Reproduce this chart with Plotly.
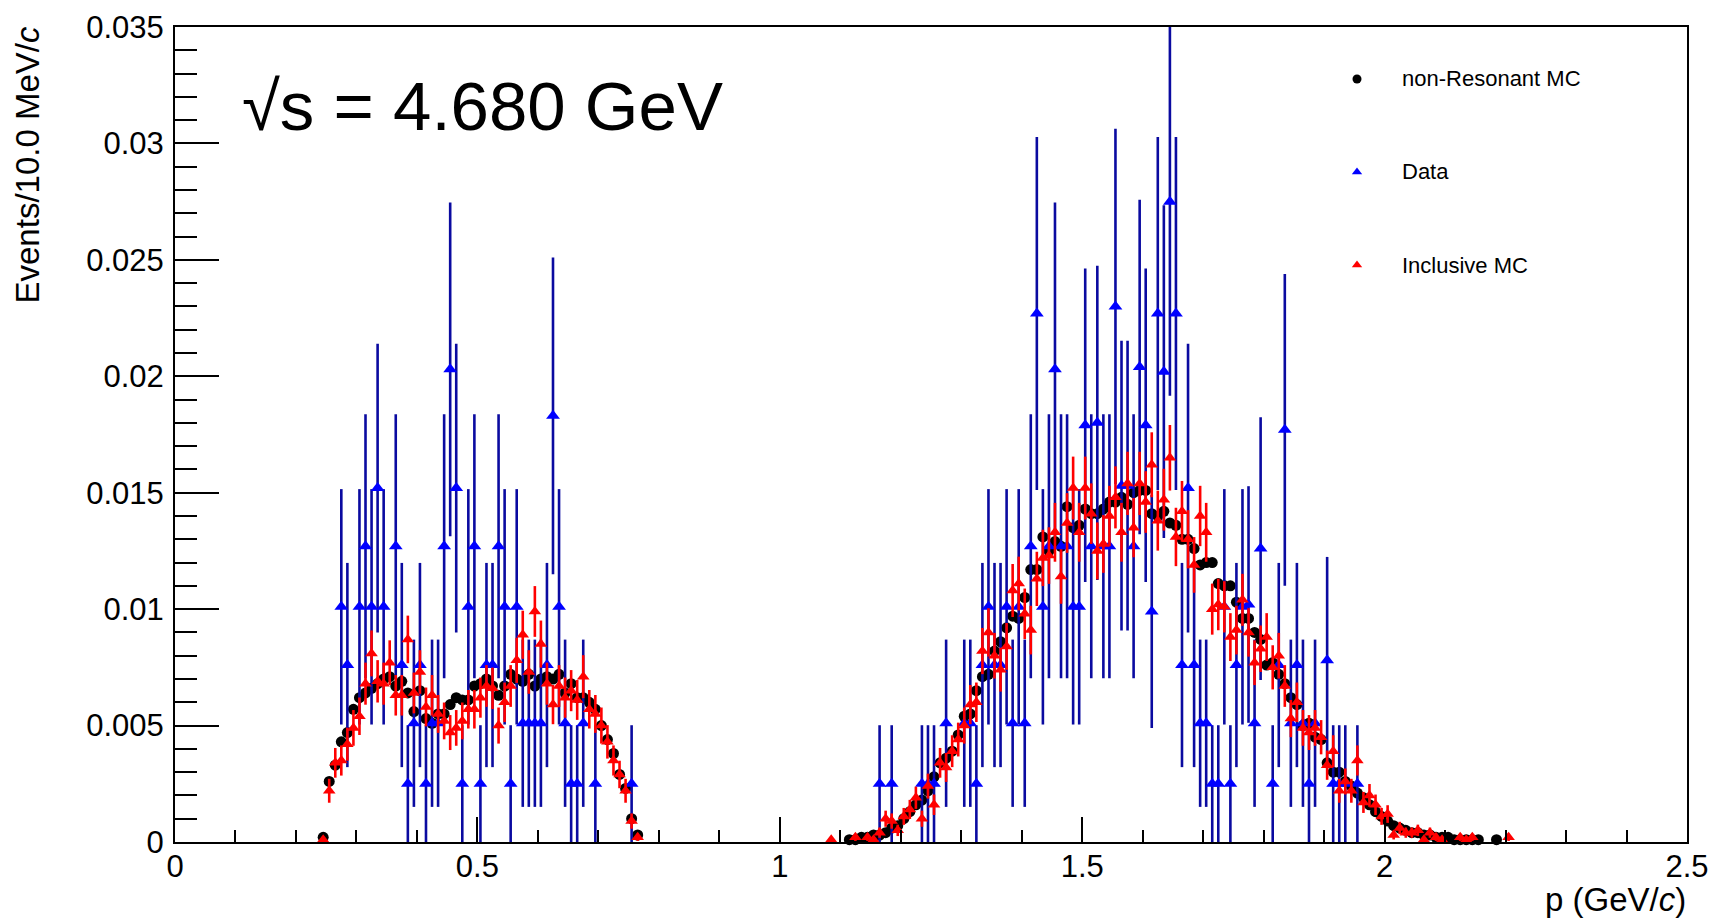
import math
import plotly.graph_objects as go

# ---------------- data (bin width 10 MeV/c) ----------------
bin_width = 0.01
left_first_center = 0.245
right_first_center = 1.085

left_nonres = [0.0002, 0.0026, 0.0033, 0.0043, 0.0047, 0.0057, 0.0062, 0.0064, 0.0066, 0.0068,
               0.0070, 0.0071, 0.0067, 0.0069, 0.0064, 0.0056, 0.0065, 0.0053, 0.0051, 0.0055,
               0.0055, 0.0059, 0.0062, 0.0061, 0.0061, 0.0067, 0.0068, 0.0070, 0.0067, 0.0063,
               0.0067, 0.0072, 0.0070, 0.0069, 0.0072, 0.0067, 0.0070, 0.0071, 0.0070, 0.0072,
               0.0064, 0.0068, 0.0062, 0.0062, 0.0060, 0.0057, 0.0050, 0.0044, 0.0038, 0.0029,
               0.0023, 0.0010, 0.0003]
left_incl = [0.0001, 0.0022, 0.0034, 0.0035, 0.0042, 0.0049, 0.0054, 0.0068, 0.0081, 0.0069,
             0.0068, 0.0077, 0.0063, 0.0063, 0.0087, 0.0064, 0.0073, 0.0058, 0.0063, 0.0055,
             0.0052, 0.0047, 0.0049, 0.0052, 0.0057, 0.0057, 0.0062, 0.0067, 0.0066, 0.0050,
             0.0060, 0.0067, 0.0078, 0.0089, 0.0073, 0.0099, 0.0085, 0.0068, 0.0059, 0.0067,
             0.0062, 0.0065, 0.0061, 0.0071, 0.0057, 0.0055, 0.0050, 0.0043, 0.0035, 0.0029,
             0.0022, 0.0009, 0.0002]
left_data = [None, None, None, 0.0101, 0.0076, None, 0.0101, 0.0127, 0.0101, 0.0152,
             0.0101, None, 0.0127, 0.0076, 0.0025, 0.0051, 0.0076, 0.0025, 0.0051, 0.0051,
             0.0127, 0.0203, 0.0152, 0.0025, 0.0101, 0.0127, 0.0025, 0.0076, 0.0076, 0.0127,
             0.0101, 0.0025, 0.0101, 0.0051, 0.0051, 0.0051, 0.0051, 0.0076, 0.0183, 0.0101,
             0.0051, 0.0025, 0.0025, 0.0051, None, 0.0025, None, None, None, None,
             None, 0.0025, None]

right_nonres = [None, None, None, 0.0001, 0.0001, 0.0002, 0.0002, 0.0003, 0.0003, 0.0004,
                0.0006, 0.0007, 0.0010, 0.0013, 0.0016, 0.0018, 0.0022, 0.0028, 0.0034, 0.0036,
                0.0039, 0.0046, 0.0054, 0.0055, 0.0065, 0.0071, 0.0072, 0.0082, 0.0086, 0.0092,
                0.0097, 0.0096, 0.0105, 0.0117, 0.0117, 0.0131, 0.0125, 0.0129, 0.0127, 0.0144,
                0.0135, 0.0136, 0.0143, 0.0141, 0.0141, 0.0143, 0.0146, 0.0146, 0.0148, 0.0145,
                0.0150, 0.0151, 0.0151, 0.0141, 0.0140, 0.0142, 0.0137, 0.0136, 0.0130, 0.0130,
                0.0126, 0.0119, 0.0120, 0.0120, 0.0111, 0.0110, 0.0110, 0.0103, 0.0096, 0.0096,
                0.0090, 0.0087, 0.0076, 0.0077, 0.0072, 0.0068, 0.0062, 0.0059, 0.0050, 0.0051,
                0.0045, 0.0044, 0.0034, 0.0030, 0.0030, 0.0026, 0.0024, 0.0021, 0.0019, 0.0016,
                0.0013, 0.0011, 0.0009, 0.0007, 0.0006, 0.0005, 0.0004, 0.0004, 0.0003, 0.0003,
                0.0002, 0.0002, 0.0002, 0.0001, 0.0001, 0.0001, 0.0001, 0.0001, None, None,
                0.0001, None, None]
right_incl = [0.0001, None, None, None, 0.0002, None, 0.0002, 0.0001, 0.0004, 0.0010,
              0.0009, 0.0005, 0.0011, 0.0014, 0.0019, 0.0010, 0.0024, 0.0016, 0.0034, 0.0032,
              0.0039, 0.0044, 0.0050, 0.0059, 0.0060, 0.0082, 0.0090, 0.0080, 0.0074, 0.0084,
              0.0108, 0.0111, 0.0098, 0.0091, 0.0113, 0.0122, 0.0123, 0.0133, 0.0114, 0.0137,
              0.0152, 0.0133, 0.0152, 0.0141, 0.0125, 0.0128, 0.0140, 0.0148, 0.0133, 0.0154,
              0.0135, 0.0154, 0.0146, 0.0162, 0.0138, 0.0147, 0.0165, 0.0131, 0.0142, 0.0130,
              0.0119, 0.0140, 0.0133, 0.0100, 0.0102, 0.0101, 0.0088, 0.0091, 0.0104, 0.0090,
              0.0077, 0.0083, 0.0088, 0.0075, 0.0080, 0.0067, 0.0053, 0.0060, 0.0049, 0.0047,
              0.0049, 0.0045, 0.0033, 0.0039, 0.0022, 0.0026, 0.0022, 0.0035, 0.0017, 0.0020,
              0.0016, 0.0011, 0.0012, 0.0003, 0.0006, 0.0004, 0.0004, 0.0005, 0.0001, 0.0004,
              0.0002, 0.0001, None, None, 0.0002, 0.0001, 0.0002, None, None, None,
              None, None, 0.0002]
right_data = [None, None, None, None, None, None, None, None, 0.0025, None,
              0.0025, None, None, None, None, 0.0025, 0.0025, 0.0025, None, 0.0051,
              None, None, 0.0051, 0.0051, 0.0025, 0.0076, 0.0101, 0.0076, 0.0076, 0.0101,
              0.0051, 0.0101, 0.0051, 0.0127, 0.0227, 0.0101, 0.0127, 0.0203, 0.0127, 0.0127,
              0.0101, 0.0101, 0.0179, 0.0127, 0.0180, 0.0127, 0.0127, 0.0230, 0.0153, 0.0153,
              0.0127, 0.0204, 0.0179, 0.0099, 0.0227, 0.0202, 0.0275, 0.0227, 0.0076, 0.0152,
              0.0076, 0.0051, 0.0051, 0.0025, 0.0025, 0.0101, 0.0025, 0.0076, 0.0101, 0.0102,
              0.0051, 0.0126, None, 0.0025, 0.0076, 0.0177, 0.0051, 0.0076, 0.0051, 0.0025,
              0.0051, None, 0.0078, 0.0025, 0.0025, 0.0025, None, 0.0025, None, None,
              None, None, None, None, None, None, None, None, None, None,
              None, None, None, None, None, None, None, None, None, None,
              None, None, None]

data_event_weight = 0.00253   # value of one data event (Poisson errors)
incl_event_weight = 0.00012   # value of one inclusive-MC event

x_ticks = [0, 0.5, 1, 1.5, 2, 2.5]
x_tick_labels = ["0", "0.5", "1", "1.5", "2", "2.5"]
y_ticks = [0, 0.005, 0.01, 0.015, 0.02, 0.025, 0.03, 0.035]
y_tick_labels = ["0", "0.005", "0.01", "0.015", "0.02", "0.025", "0.03", "0.035"]

legend_names = ["non-Resonant MC", "Data", "Inclusive MC"]
title_text = "√s = 4.680 GeV"

# ---------------- layout constants ----------------
W, H = 1712, 919
ML, MR, MT, MB = 175, 25, 27, 77
PW, PH = W - ML - MR, H - MT - MB
FONT = "Liberation Sans, Arial, Helvetica, sans-serif"


def centers(first, n):
    return [round(first + i * bin_width, 4) for i in range(n)]


def collect(first_l, vals_l, first_r, vals_r):
    xs, ys = [], []
    for first, vals in ((first_l, vals_l), (first_r, vals_r)):
        for x, v in zip(centers(first, len(vals)), vals):
            if v is not None:
                xs.append(x)
                ys.append(v)
    return xs, ys


nx, ny = collect(left_first_center, left_nonres, right_first_center, right_nonres)
ix, iy = collect(left_first_center, left_incl, right_first_center, right_incl)
dx, dy = collect(left_first_center, left_data, right_first_center, right_data)

d_err = [math.sqrt(v * data_event_weight) for v in dy]
i_err = [math.sqrt(v * incl_event_weight) for v in iy]

fig = go.Figure()

fig.add_trace(go.Scatter(
    x=nx, y=ny, mode="markers", name=legend_names[0], showlegend=False,
    marker=dict(symbol="circle", size=11, color="black", line=dict(width=0)),
    cliponaxis=False))

fig.add_trace(go.Scatter(
    x=dx, y=dy, mode="markers", name=legend_names[1], showlegend=False,
    marker=dict(symbol="triangle-up", size=12, color="#0000ff", line=dict(width=0)),
    error_y=dict(type="data", array=d_err, visible=True, thickness=2.6, width=0,
                 color="#0a0aa0")))

fig.add_trace(go.Scatter(
    x=ix, y=iy, mode="markers", name=legend_names[2], showlegend=False,
    marker=dict(symbol="triangle-up", size=11, color="#ff0000", line=dict(width=0)),
    error_y=dict(type="data", array=i_err, visible=True, thickness=2.6, width=0,
                 color="#ff0000"),
    cliponaxis=False))


def px_to_paper(px, py):
    return (px - ML) / PW, (H - MB - py) / PH


# manual legend (markers on an overlay unit axis)
leg_marker_x = 1357
leg_text_x = 1400
leg_rows = [79, 172, 265]
leg_styles = [("circle", "black"), ("triangle-up", "#0000ff"), ("triangle-up", "#ff0000")]
for name, (sym, col), row in zip(legend_names, leg_styles, leg_rows):
    lx, ly = px_to_paper(leg_marker_x, row)
    fig.add_trace(go.Scatter(x=[lx], y=[ly], xaxis="x2", yaxis="y2", mode="markers",
                             showlegend=False, hoverinfo="skip",
                             marker=dict(symbol=sym, size=9, color=col, line=dict(width=0))))
    tx, ty = px_to_paper(leg_text_x, row)
    fig.add_annotation(x=tx, y=ty, xref="paper", yref="paper", text=name,
                       showarrow=False, xanchor="left", yanchor="middle",
                       font=dict(family=FONT, size=22, color="black"))

# title
tx, ty = px_to_paper(240, 107)
fig.add_annotation(x=tx, y=ty, xref="paper", yref="paper", text=title_text,
                   showarrow=False, xanchor="left", yanchor="middle",
                   font=dict(family=FONT, size=69, color="black"))

# axis titles (ROOT style, right/top aligned)
tx, ty = px_to_paper(1688, 899)
fig.add_annotation(x=tx, y=ty, xref="paper", yref="paper", text="p (GeV/<i>c</i>)",
                   showarrow=False, xanchor="right", yanchor="middle",
                   font=dict(family=FONT, size=33, color="black"))
tx, ty = px_to_paper(27, 25)
fig.add_annotation(x=tx, y=ty, xref="paper", yref="paper", text="Events/10.0 MeV/<i>c</i>",
                   showarrow=False, xanchor="center", yanchor="top", textangle=-90,
                   font=dict(family=FONT, size=33, color="black"))

fig.update_layout(
    width=W, height=H,
    margin=dict(l=ML, r=MR, t=MT, b=MB, pad=0, autoexpand=False),
    paper_bgcolor="white", plot_bgcolor="white",
    showlegend=False,
    font=dict(family=FONT, size=31, color="black"),
    xaxis=dict(range=[0, 2.5], tickmode="array", tickvals=x_ticks, ticktext=x_tick_labels,
               ticks="inside", ticklen=25, tickwidth=2, tickcolor="black",
               showline=True, linewidth=2, linecolor="black", mirror=True,
               showgrid=False, zeroline=False, ticklabelstandoff=-4,
               ticklabeloverflow="allow", automargin=False,
               tickfont=dict(family=FONT, size=31),
               minor=dict(dtick=0.1, tick0=0, ticks="inside", ticklen=12, tickwidth=2,
                          tickcolor="black", showgrid=False)),
    yaxis=dict(range=[0, 0.035], tickmode="array", tickvals=y_ticks, ticktext=y_tick_labels,
               ticks="inside", ticklen=44, tickwidth=2, tickcolor="black",
               showline=True, linewidth=2, linecolor="black", mirror=True,
               showgrid=False, zeroline=False, ticklabelstandoff=3,
               ticklabeloverflow="allow", automargin=False,
               tickfont=dict(family=FONT, size=31),
               minor=dict(dtick=0.001, tick0=0, ticks="inside", ticklen=22, tickwidth=2,
                          tickcolor="black", showgrid=False)),
    xaxis2=dict(overlaying="x", range=[0, 1], visible=False, fixedrange=True),
    yaxis2=dict(overlaying="y", range=[0, 1], visible=False, fixedrange=True),
)

fig.write_html("out.html")
